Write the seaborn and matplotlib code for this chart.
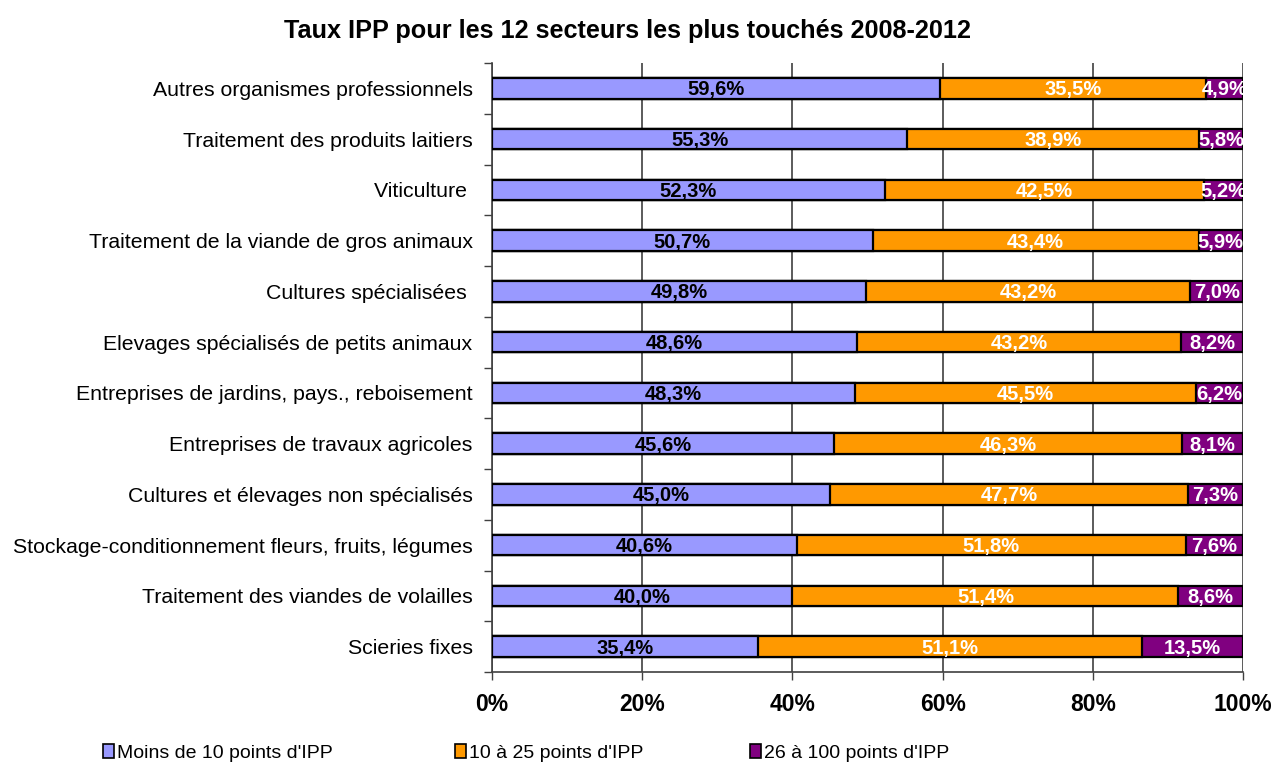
import pandas as pd
import seaborn as sns
import matplotlib.pyplot as plt
from matplotlib.patches import Patch

secteurs = [
    "Autres organismes professionnels",
    "Traitement des produits laitiers",
    "Viticulture ",
    "Traitement de la viande de gros animaux",
    "Cultures spécialisées ",
    "Elevages spécialisés de petits animaux",
    "Entreprises de jardins, pays., reboisement",
    "Entreprises de travaux agricoles",
    "Cultures et élevages non spécialisés",
    "Stockage-conditionnement fleurs, fruits, légumes",
    "Traitement des viandes de volailles",
    "Scieries fixes",
]
moins_10 = [59.6, 55.3, 52.3, 50.7, 49.8, 48.6, 48.3, 45.6, 45.0, 40.6, 40.0, 35.4]
de_10_25 = [35.5, 38.9, 42.5, 43.4, 43.2, 43.2, 45.5, 46.3, 47.7, 51.8, 51.4, 51.1]
de_26_100 = [4.9, 5.8, 5.2, 5.9, 7.0, 8.2, 6.2, 8.1, 7.3, 7.6, 8.6, 13.5]

series = ["Moins de 10 points d'IPP", "10 à 25 points d'IPP", "26 à 100 points d'IPP"]
couleurs = ["#9999FF", "#FF9900", "#800080"]
couleurs_txt = ["black", "white", "white"]

df = pd.DataFrame({"Secteur": secteurs, series[0]: moins_10,
                   series[1]: de_10_25, series[2]: de_26_100})
# cumuls pour l'empilement
df["c1"] = df[series[0]]
df["c2"] = df["c1"] + df[series[1]]
df["c3"] = df["c2"] + df[series[2]]

plt.rcParams['font.family'] = ['Liberation Sans', 'DejaVu Sans']
fig = plt.figure(figsize=(12.74, 7.65), dpi=100)
ax = fig.add_axes([492 / 1274, 1 - 672 / 765, (1243 - 492) / 1274, (672 - 63) / 765])

# barres empilées : on dessine le cumul le plus long d'abord
for col, c in zip(["c3", "c2", "c1"], couleurs[::-1]):
    sns.barplot(data=df, x=col, y="Secteur", orient="h", color=c,
                width=0.4, edgecolor="black", linewidth=1.6,
                saturation=1, ax=ax, zorder=3)

# étiquettes des segments
for i in range(len(secteurs)):
    debut = 0
    for j, s in enumerate(series):
        v = df[s].iloc[i]
        ax.text(debut + v / 2, i + 0.03, f"{v:.1f}%".replace(".", ","),
                ha="center", va="center", fontsize=14.5, fontweight="bold",
                color=couleurs_txt[j], zorder=5)
        debut += v

ax.set_xlim(0, 100)
ax.set_ylim(len(secteurs) - 0.5, -0.5)
ax.set_xticks([0, 20, 40, 60, 80, 100])
ax.set_xticklabels(["0%", "20%", "40%", "60%", "80%", "100%"],
                   fontsize=16.5, fontweight="bold")
ax.xaxis.grid(True, color="#404040", linewidth=1.2, zorder=0)
ax.set_axisbelow(True)
ax.tick_params(axis="x", length=6, width=1, color="#404040", pad=9)

# graduations y entre les catégories
ax.set_yticks([i + 0.5 for i in range(-1, len(secteurs))], minor=True)
ax.tick_params(axis="y", which="minor", length=6, width=1, color="#404040")
ax.tick_params(axis="y", which="major", length=0, pad=14, labelsize=15.3)
ax.set_xlabel("")
ax.set_ylabel("")
for sp in ["top", "right"]:
    ax.spines[sp].set_visible(False)
for sp in ["left", "bottom"]:
    ax.spines[sp].set_color("#404040")
    ax.spines[sp].set_linewidth(1.2)

fig.text(628 / 1274, 1 - 31 / 765, "Taux IPP pour les 12 secteurs les plus touchés 2008-2012",
         ha="center", va="center", fontsize=18.2, fontweight="bold")

# légende : une entrée par position, comme dans l'original
pos_x = [103, 455, 750]
for s, c, x in zip(series, couleurs, pos_x):
    h = Patch(facecolor=c, edgecolor="black", linewidth=1.2)
    fig.legend([h], [s], loc="center left", bbox_to_anchor=(x / 1274, 1 - 753 / 765),
               frameon=False, fontsize=14, handlelength=0.55, handleheight=0.75,
               handletextpad=0.15, borderpad=0, borderaxespad=0)

fig.savefig("out.png", dpi=100)
